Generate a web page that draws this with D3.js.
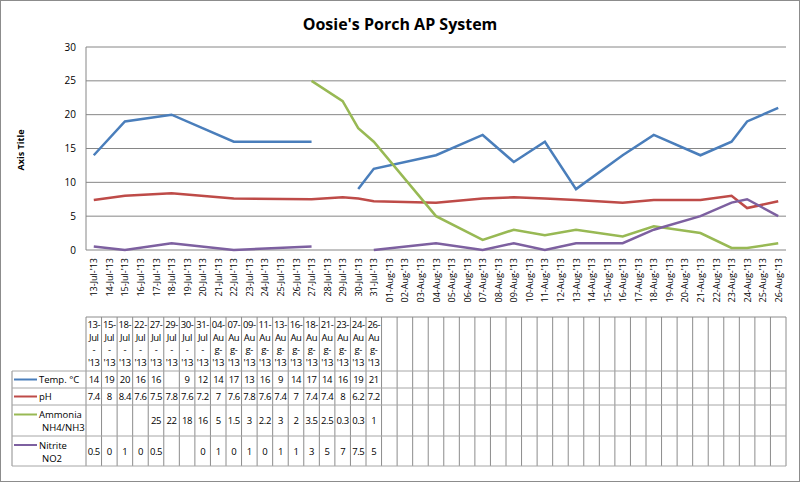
<!DOCTYPE html>
<html><head><meta charset="utf-8">
<script src="https://cdn.jsdelivr.net/npm/d3@7"></script>
<style>body{margin:0;background:#fff}svg{display:block;font-family:"Open Sans","Liberation Sans",Arial,sans-serif}</style>
</head><body><svg width="800" height="482"></svg>
<script>
const sampleDates = ["2013-07-13","2013-07-15","2013-07-18","2013-07-22","2013-07-27","2013-07-29","2013-07-30","2013-07-31","2013-08-04","2013-08-07","2013-08-09","2013-08-11","2013-08-13","2013-08-16","2013-08-18","2013-08-21","2013-08-23","2013-08-24","2013-08-26"];
const temp = [14,19,20,16,16,null,9,12,14,17,13,16,9,14,17,14,16,19,21];
const ph = [7.4,8,8.4,7.6,7.5,7.8,7.6,7.2,7,7.6,7.8,7.6,7.4,7,7.4,7.4,8,6.2,7.2];
const ammonia = [null,null,null,null,25,22,18,16,5,1.5,3,2.2,3,2,3.5,2.5,0.3,0.3,1];
const nitrite = [0.5,0,1,0,0.5,null,null,0,1,0,1,0,1,1,3,5,7,7.5,5];
const yTicks = [0,5,10,15,20,25,30];

const series = [
  {name:["Temp. °C"], values:temp, color:"#4a7ebb"},
  {name:["pH"], values:ph, color:"#be4b48"},
  {name:["Ammonia","NH4/NH3"], values:ammonia, color:"#98b954"},
  {name:["Nitrite","NO2"], values:nitrite, color:"#7d60a0"}
];

const parse = d3.timeParse("%Y-%m-%d");
const days = d3.timeDay.range(parse("2013-07-13"), parse("2013-08-27"));
const fmtAxis = d3.timeFormat("%d-%b-'%y");
const keys = days.map(fmtAxis);

const svg = d3.select("svg");
svg.append("rect").attr("x",0.5).attr("y",0.5).attr("width",799).attr("height",481)
  .attr("fill","#fff").attr("stroke","#8c8c8c");

const x = d3.scaleBand().domain(keys).range([86,786]);
const y = d3.scaleLinear().domain([0,30]).range([250,47]);

svg.append("text").attr("x",400).attr("y",30).attr("text-anchor","middle")
  .attr("font-size",16).attr("font-weight","bold").text("Oosie's Porch AP System");

svg.append("g").selectAll("line").data(yTicks).join("line")
  .attr("x1",86).attr("x2",786).attr("y1",d=>y(d)).attr("y2",d=>y(d))
  .attr("stroke","#868686").attr("stroke-width",1);
svg.append("line").attr("x1",86).attr("x2",86).attr("y1",47).attr("y2",250).attr("stroke","#868686");

svg.append("g").selectAll("text").data(yTicks).join("text")
  .attr("x",76).attr("y",d=>y(d)+3.5).attr("text-anchor","end").attr("font-size",10).text(d=>d);

svg.append("text").attr("transform","translate(24,150) rotate(-90)").attr("text-anchor","middle")
  .attr("font-size",9).attr("font-weight","bold").text("Axis Title");

svg.append("g").selectAll("text").data(keys).join("text")
  .attr("transform",d=>`translate(${x(d)+x.bandwidth()/2+3.5},258) rotate(-90)`)
  .attr("text-anchor","end").attr("font-size",9).text(d=>d);

const sKeys = sampleDates.map(d=>fmtAxis(parse(d)));
const line = d3.line().defined(d=>d.v!=null)
  .x(d=>x(d.k)+x.bandwidth()/2).y(d=>y(d.v));
series.forEach(s=>{
  svg.append("path").datum(sKeys.map((k,i)=>({k,v:s.values[i]})))
    .attr("d",line).attr("fill","none").attr("stroke",s.color).attr("stroke-width",2.5);
});

// data table: columns in sample order, same widths as the axis categories
const col = d3.scaleBand().domain(d3.range(keys.length)).range([86,786]);
const tTop=317, hBot=371, rows=[371,388,405,436,466];
const tg = svg.append("g");
col.domain().forEach(i=>{
  tg.append("line").attr("x1",col(i)).attr("x2",col(i)).attr("y1",tTop).attr("y2",466).attr("stroke","#8c8c8c");
});
tg.append("line").attr("x1",786).attr("x2",786).attr("y1",tTop).attr("y2",466).attr("stroke","#8c8c8c");
tg.append("line").attr("x1",86).attr("x2",786).attr("y1",tTop).attr("y2",tTop).attr("stroke","#8c8c8c");
tg.append("line").attr("x1",12).attr("x2",12).attr("y1",hBot).attr("y2",466).attr("stroke","#8c8c8c");
rows.forEach(r=>tg.append("line").attr("x1",12).attr("x2",786).attr("y1",r).attr("y2",r).attr("stroke","#a6a6a6"));

const fs = 9.5;
sampleDates.forEach((s,i)=>{
  const d=parse(s);
  const mon=d3.timeFormat("%b")(d);
  const lines=[d3.timeFormat("%d-")(d), mon==="Jul"?"Jul":"Au", mon==="Jul"?"-":"g-", d3.timeFormat("'%y")(d)];
  const cx=col(i)+col.bandwidth()/2;
  const t=tg.append("text").attr("text-anchor","middle").attr("font-size",fs).attr("letter-spacing",-0.4);
  lines.forEach((l,j)=>t.append("tspan").attr("x",cx).attr("y",328+j*12.5).text(l));
});

series.forEach((s,si)=>{
  const yc=(rows[si]+rows[si+1])/2;
  const two=s.name.length>1;
  tg.append("line").attr("x1",14).attr("x2",37).attr("y1",yc-(two?6:0)).attr("y2",yc-(two?6:0))
    .attr("stroke",s.color).attr("stroke-width",2);
  const t=tg.append("text").attr("font-size",fs);
  s.name.forEach((n,j)=>t.append("tspan").attr("x",j?42:39).attr("y",yc+3.5+(two?(j?7:-6):0)).text(n));
  s.values.forEach((v,i)=>{
    if(v==null) return;
    tg.append("text").attr("x",col(i)+col.bandwidth()/2).attr("y",yc+3.5).attr("text-anchor","middle")
      .attr("font-size",fs).attr("letter-spacing",-0.4).text(v);
  });
});
</script></body></html>
